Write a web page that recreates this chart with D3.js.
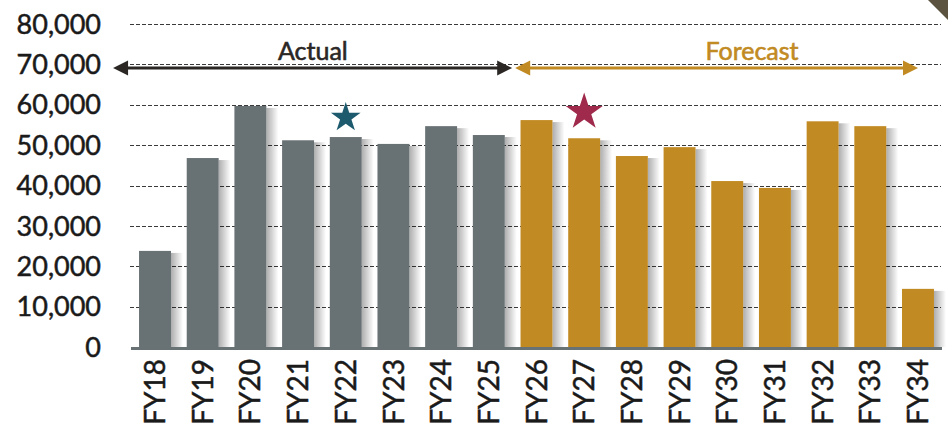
<!DOCTYPE html>
<html>
<head>
<meta charset="utf-8">
<script src="https://cdn.jsdelivr.net/npm/d3@7"></script>
<style>
  body { margin: 0; background: #fff; }
  svg { display: block; }
</style>
</head>
<body>
<script>
// data
const years = ["FY18","FY19","FY20","FY21","FY22","FY23","FY24","FY25",
               "FY26","FY27","FY28","FY29","FY30","FY31","FY32","FY33","FY34"];
const values = [23800, 46800, 59700, 51200, 52000, 50300, 54700, 52500,
                56200, 51700, 47300, 49500, 41100, 39400, 55900, 54700, 14400];
const actualYears = ["FY18","FY19","FY20","FY21","FY22","FY23","FY24","FY25"];
const yTicks = [0, 10000, 20000, 30000, 40000, 50000, 60000, 70000, 80000];
const stars = [
  { year: "FY22", value: 56800, color: "#1d5a6e", r: 12 },
  { year: "FY27", value: 58200, color: "#9f2a4b", r: 15 }
];

const w = 948;
const h = 426;

const grey = "#687174";
const gold = "#c18a22";

const svg = d3.select("body")
  .append("svg")
  .attr("width", w)
  .attr("height", h);

const x = d3.scaleBand()
  .domain(years)
  .range([129.5, 943.5])
  .paddingInner(0.33)
  .paddingOuter(0.2);

const y = d3.scaleLinear()
  .domain([0, 80000])
  .range([347, 24]);

const defs = svg.append("defs");
const grad = defs.append("linearGradient")
  .attr("id", "shadow")
  .attr("x1", "0%").attr("x2", "100%");
grad.append("stop").attr("offset", "0%").attr("stop-color", "#000").attr("stop-opacity", 0.32);
grad.append("stop").attr("offset", "100%").attr("stop-color", "#000").attr("stop-opacity", 0);

// dashed gridlines
svg.selectAll(".grid")
  .data(yTicks.filter(d => d > 0))
  .enter()
  .append("line")
  .attr("x1", 130)
  .attr("x2", 941)
  .attr("y1", d => Math.round(y(d)) + 0.5)
  .attr("y2", d => Math.round(y(d)) + 0.5)
  .style("stroke", "#3a3a3a")
  .style("stroke-width", 1)
  .style("stroke-dasharray", "4,2");

// y labels
svg.selectAll(".ylab")
  .data(yTicks)
  .enter()
  .append("text")
  .attr("x", 101)
  .attr("y", d => y(d))
  .attr("dy", "0.36em")
  .attr("text-anchor", "end")
  .style("font-family", "Lato, sans-serif")
  .style("font-size", "27px")
  .style("fill", "#1a1a1a")
  .style("stroke", "#1a1a1a")
  .style("stroke-width", 0.5)
  .text(d => d3.format(",")(d));

// bar shadows
svg.selectAll(".shadow")
  .data(years)
  .enter()
  .append("rect")
  .attr("x", d => x(d) + x.bandwidth())
  .attr("y", (d, i) => y(values[i]) + 2)
  .attr("width", 12)
  .attr("height", (d, i) => y(0) - y(values[i]) - 2)
  .style("fill", "url(#shadow)");

// bars
svg.selectAll(".bar")
  .data(years)
  .enter()
  .append("rect")
  .attr("x", d => x(d))
  .attr("y", (d, i) => y(values[i]))
  .attr("width", x.bandwidth())
  .attr("height", (d, i) => y(0) - y(values[i]))
  .style("fill", d => actualYears.includes(d) ? grey : gold);

// baseline
svg.append("rect")
  .attr("x", 131)
  .attr("y", y(0))
  .attr("width", 811)
  .attr("height", 3)
  .style("fill", grey);

// x labels
svg.selectAll(".xlab")
  .data(years)
  .enter()
  .append("text")
  .attr("transform", d => `translate(${x(d) + x.bandwidth() / 2},359) rotate(-90)`)
  .attr("dy", "0.36em")
  .attr("text-anchor", "end")
  .style("font-family", "Lato, sans-serif")
  .style("font-size", "28px")
  .style("fill", "#1a1a1a")
  .style("stroke", "#1a1a1a")
  .style("stroke-width", 0.5)
  .text(d => d);

// actual / forecast arrows
const split = (x("FY25") + x.bandwidth() + x("FY26")) / 2;
const arrowY = 68;
function arrow(x1, x2, color) {
  const g = svg.append("g");
  const dir = Math.sign(x2 - x1);
  g.append("line")
    .attr("x1", x1 + dir * 4).attr("x2", x2 - dir * 10)
    .attr("y1", arrowY).attr("y2", arrowY)
    .style("stroke", color).style("stroke-width", 3);
  [[x1, -dir], [x2, dir]].forEach(([tip, d]) => {
    g.append("path")
      .attr("d", `M${tip},${arrowY} L${tip - d * 15},${arrowY - 7.5} L${tip - d * 15},${arrowY + 7.5} Z`)
      .style("fill", color);
  });
}
arrow(x("FY18") - 26, split - 0.5, "#2b2725");
arrow(split + 2.5, x("FY34") + x.bandwidth() / 2, gold);

svg.append("text")
  .attr("x", (x("FY18") - 26 + split) / 2)
  .attr("y", 60)
  .attr("text-anchor", "middle")
  .style("font-family", "Lato, sans-serif")
  .style("font-size", "25px")
  .style("fill", "#2b2725")
  .style("stroke", "#2b2725")
  .style("stroke-width", 0.6)
  .text("Actual");

svg.append("text")
  .attr("x", 752)
  .attr("y", 60)
  .attr("text-anchor", "middle")
  .style("font-family", "Lato, sans-serif")
  .style("font-size", "25px")
  .style("fill", gold)
  .style("stroke", gold)
  .style("stroke-width", 0.6)
  .text("Forecast");

// stars
const star = d3.symbol().type(d3.symbolStar);
svg.selectAll(".star")
  .data(stars)
  .enter()
  .append("path")
  .attr("transform", d => `translate(${x(d.year) + x.bandwidth() / 2},${y(d.value)})`)
  .attr("d", d => star.size(d.r * d.r * 1.9)())
  .style("fill", d => d.color);

// corner decoration
svg.append("path")
  .attr("d", "M948,0 L928,0 Q936,8 948,20 Z")
  .style("fill", "#5b5240");
</script>
</body>
</html>
